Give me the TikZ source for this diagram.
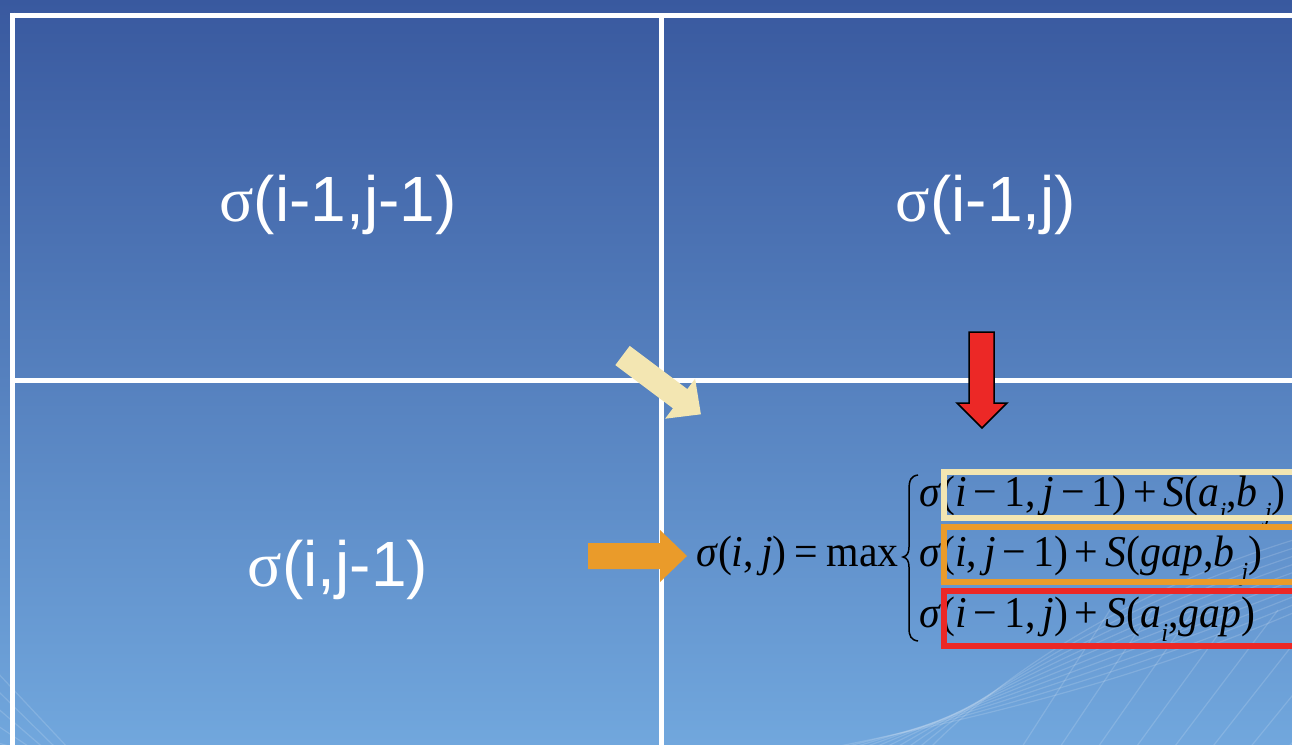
\documentclass[tikz,border=0pt]{standalone}
\usepackage{graphicx}
\usepackage{fontspec}
\setmainfont{Liberation Serif}
\newfontfamily\arialf{Liberation Sans}
\newfontfamily\timesf{Liberation Serif}
\definecolor{bgtop}{RGB}{57,89,159}
\definecolor{bgbot}{RGB}{113,167,221}
\definecolor{cream}{RGB}{243,230,178}
\definecolor{orng}{RGB}{234,155,42}
\definecolor{redd}{RGB}{236,40,38}
\tikzset{
  gridline/.style={white, line width=5pt},
  celltext/.style={text=white, inner sep=0pt, font=\arialf\fontsize{64}{64}\selectfont},
  fml/.style={text=black, inner sep=0pt, font=\timesf\fontsize{44}{44}\selectfont},
  rowbox/.style={line width=5.5pt},
  mesh/.style={white, opacity=0.15, line width=1.2pt},
}
\newcommand{\mi}[1]{\textit{#1}}
\newcommand{\msub}[1]{\raisebox{-0.32em}{\fontsize{26}{26}\selectfont\itshape #1}}
\newcommand{\sq}[1]{\scalebox{0.95}[1]{#1}}
\begin{document}
\begin{tikzpicture}[x=1pt,y=-1pt]
\useasboundingbox (0,0) rectangle (1292,744);
\shade[top color=bgtop, bottom color=bgbot] (0,0) rectangle (1292,744);
% faint mesh decoration
\begin{scope}
\clip (0,0) rectangle (1292,744);
\foreach \k in {0,...,9} {
  \draw[mesh] (820+\k*12,750) .. controls (1020,710-\k*6) and (1160,670-\k*10) .. (1300,610-\k*8);
}
\foreach \k in {0,...,8} {
  \draw[mesh] (1020+\k*38,750) -- (1110+\k*42,610);
}
\foreach \k in {0,...,4} {
  \draw[mesh] (-5,670+\k*18) -- (70-\k*12,750);
}
\end{scope}
% grid
\draw[gridline] (10,15) -- (1300,15);
\draw[gridline] (12.5,12.5) -- (12.5,750);
\draw[gridline] (661,15) -- (661,750);
\draw[gridline] (12.5,380) -- (1300,380);
% cell labels
\node[celltext] (c11) at (338,205) {{\timesf σ}(i-1,j-1)};
\node[celltext] (c12) at (986,205) {{\timesf σ}(i-1,j)};
\node[celltext] (c21) at (338,570) {{\timesf σ}(i,j-1)};
% formula
\node[fml, anchor=base east] (lhs) at (899,566) {\sq{\mi{σ}(\mi{i},\,\mi{j})\hspace{0.2em}=\hspace{0.2em}max}};
\draw[line width=1.5pt] (918,475) .. controls (911,476) and (909,480) .. (909,490) -- (909,547)
  .. controls (909,553) and (907,556) .. (903,557) .. controls (907,558) and (909,561) .. (909,567)
  -- (909,628) .. controls (909,636) and (911,640) .. (918,641);
\node[fml, anchor=base west] (r1) at (919,506) {\sq{\mi{σ}(\mi{i}\,−\,1,\,\mi{j}\,−\,1)\,+\,\mi{S}(\mi{a}\msub{i},\mi{b}\,\msub{j})}};
\node[fml, anchor=base west] (r2) at (919,566) {\sq{\mi{σ}(\mi{i},\,\mi{j}\,−\,1)\,+\,\mi{S}(\mi{gap},\mi{b}\,\msub{j})}};
\node[fml, anchor=base west] (r3) at (919,627) {\sq{\mi{σ}(\mi{i}\,−\,1,\,\mi{j})\,+\,\mi{S}(\mi{a}\msub{i},\mi{gap})}};
% highlight boxes
\draw[rowbox, cream] (944,472) rectangle (1300,518);
\draw[rowbox, orng] (944,527) rectangle (1300,582);
\draw[rowbox, redd] (944,591) rectangle (1300,646);
% block arrows
\fill[cream] (615.3,365.1) -- (672.9,408.3) -- (665.1,418.7) -- (700.9,414.3) -- (695.1,378.7) -- (687.3,389.1) -- (629.7,345.9) -- cycle;
\fill[orng] (588,543) -- (660,543) -- (660,530) -- (687,556) -- (660,582) -- (660,569) -- (588,569) -- cycle;
\filldraw[fill=redd, draw=black, line width=1.5pt, line join=miter] (969,332) -- (994,332) -- (994,403) -- (1007,403) -- (982,428) -- (957,403) -- (969,403) -- cycle;
\end{tikzpicture}
\end{document}
